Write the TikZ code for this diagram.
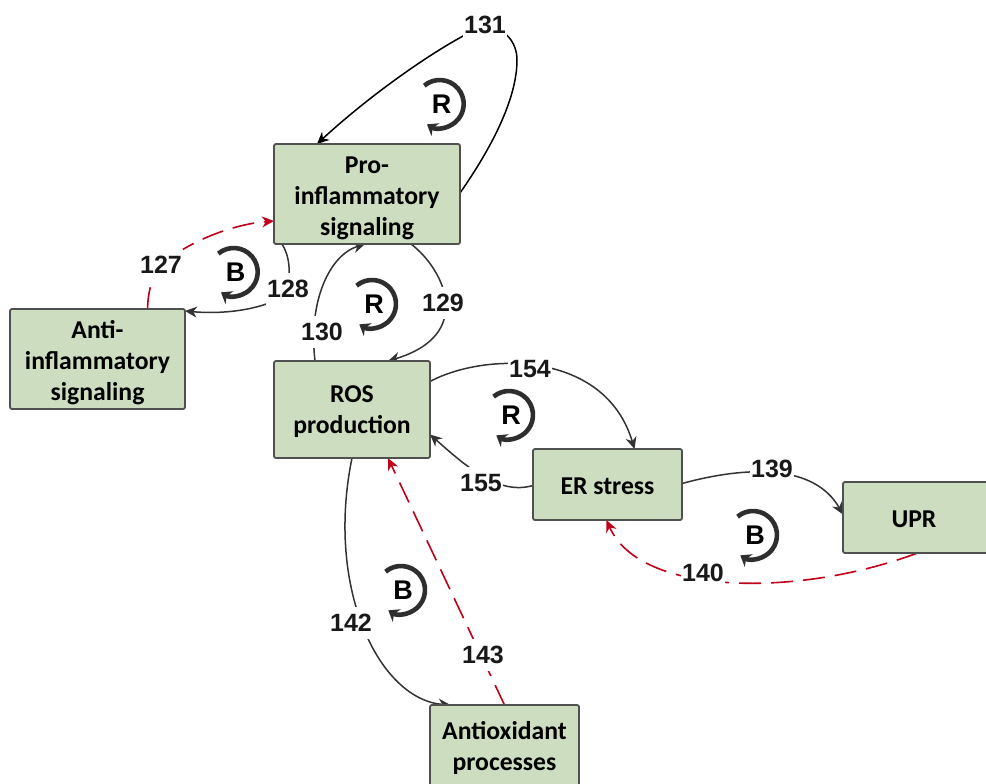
\documentclass[tikz,border=0pt]{standalone}
\usepackage{fontspec}
\setmainfont{Carlito}
\newfontfamily\numfont{Liberation Sans}
\usetikzlibrary{arrows.meta,calc,backgrounds}
\definecolor{boxfill}{HTML}{CCDDC0}
\definecolor{boxline}{HTML}{505050}
\definecolor{edgeline}{HTML}{333333}
\definecolor{redline}{HTML}{C00018}
\tikzset{
  box/.style={draw=boxline,line width=1.8pt,fill=boxfill,rounded corners=2pt,align=center,inner sep=0pt,outer sep=0pt,
    font=\fontsize{25.7pt}{31pt}\selectfont\bfseries},
  lab/.style={fill=white,inner xsep=1pt,inner ysep=0pt,minimum height=32pt,text=black!90,
    font=\fontsize{25pt}{28pt}\selectfont\numfont\bfseries},
  letter/.style={inner sep=0pt,text=black,font=\fontsize{27pt}{28pt}\selectfont\numfont\bfseries},
  edge/.style={draw=edgeline,line width=1.5pt,-{Stealth[length=12pt,width=11pt]}},
  edgeblack/.style={edge,draw=black},
  inhibit/.style={draw=redline,line width=1.6pt,dash pattern=on 22pt off 10pt,-{Stealth[length=12pt,width=11pt]}},
  looparc/.style={draw=black!82,line width=4.6pt,-{Stealth[length=10pt,width=15pt]}}
}
\newcommand{\looparrow}[1]{\draw[looparc] ([shift={(130:24pt)}]#1.center) ++(-2pt,0pt) arc[start angle=130,end angle=-122,radius=24pt];}
\newcommand{\lowerby}[1]{\rule{0pt}{#1}}
\begin{document}
\begin{tikzpicture}[x=1pt,y=-1pt]
\useasboundingbox (0,0) rectangle (986,784);
\clip (0,0) rectangle (986,784);
% boxes
\node[box,minimum width=186pt,minimum height=100pt] (pro) at (367,194) {\lowerby{25pt}Pro-\\inflammatory\\signaling};
\node[box,minimum width=175pt,minimum height=100pt] (anti) at (97.5,359) {\lowerby{25pt}Anti-\\inflammatory\\signaling};
\node[box,minimum width=156pt,minimum height=97pt] (ros) at (352,409.5) {\lowerby{21pt}ROS\\production};
\node[box,minimum width=149pt,minimum height=71pt] (er) at (607.5,484.5) {\lowerby{21pt}ER stress};
\node[box,minimum width=150pt,minimum height=71pt] (upr) at (918,517.5) {\lowerby{21pt}\hspace*{-8pt}UPR};
\node[box,minimum width=149pt,minimum height=85pt] (aox) at (504.5,747.5) {\lowerby{19pt}Antioxidant\\processes};
% labels
\node[lab] (l131) at (485,25) {131};
\node[lab] (l128) at (288,289) {128};
\node[lab] (l127) at (161,265) {127};
\node[lab] (l130) at (322,332) {130};
\node[lab] (l129) at (443,303) {129};
\node[lab] (l154) at (530,369) {154};
\node[lab] (l155) at (481,483) {155};
\node[lab] (l139) at (772,469) {139};
\node[lab] (l140) at (703,573) {140};
\node[lab] (l142) at (351,623) {142};
\node[lab] (l143) at (483,655) {143};
% loop letters
\node[letter] (r1) at (441.7,104) {R};
\node[letter] (b1) at (235.7,272) {B};
\node[letter] (r2) at (374,304) {R};
\node[letter] (r3) at (511,415) {R};
\node[letter] (b2) at (755,535) {B};
\node[letter] (b3) at (403,590) {B};
\looparrow{r1}
\looparrow{b1}
\looparrow{r2}
\looparrow{r3}
\looparrow{b2}
\looparrow{b3}
% connectors
\begin{scope}[on background layer]
\draw[edgeblack] ($(pro.east)+(0,-1)$) .. controls (490,150) and (517,100) .. (517,60) .. controls (517,42) and (505,28) .. (l131.center) .. controls (440,45) and (370,95) .. ($(pro.north)+(-50,0)$);
\draw[edge] ($(pro.south)+(-85,0)$) .. controls (288,254) and (291,265) .. (l128.center) .. controls (285,302) and (240,316) .. ($(anti.north east)+(0,2)$);
\draw[inhibit] ($(anti.north)+(50,0)$) .. controls (148,295) and (150,280) .. (l127.center) .. controls (190,240) and (235,224) .. ($(pro.west)+(0,27)$);
\draw[edge] ($(ros.north)+(-37,0)$) .. controls (308,300) and (330,255) .. ($(pro.south)+(-2,0)$);
\draw[edge] ($(pro.south)+(44,0)$) .. controls (445,270) and (475,335) .. ($(ros.north)+(36,0)$);
\draw[edge] ($(ros.east)+(0,-28)$) .. controls (485,352) and (605,350) .. ($(er.north)+(27,0)$);
\draw[edge] ($(er.west)+(0,1)$) .. controls (500,495) and (470,470) .. ($(ros.east)+(0,25)$);
\draw[edge] ($(er.east)+(0,-1)$) .. controls (750,465) and (815,465) .. ($(upr.west)+(0,-3)$);
\draw[inhibit] ($(upr.south)+(-0.5,0)$) .. controls (800,597) and (640,597) .. ($(er.south)+(-1,0)$);
\draw[edge] (ros.south) .. controls (325,590) and (380,700) .. ($(aox.north)+(-54,0)$);
\draw[inhibit] (aox.north) -- ($(ros.south)+(36,0)$);
\end{scope}
\end{tikzpicture}
\end{document}
